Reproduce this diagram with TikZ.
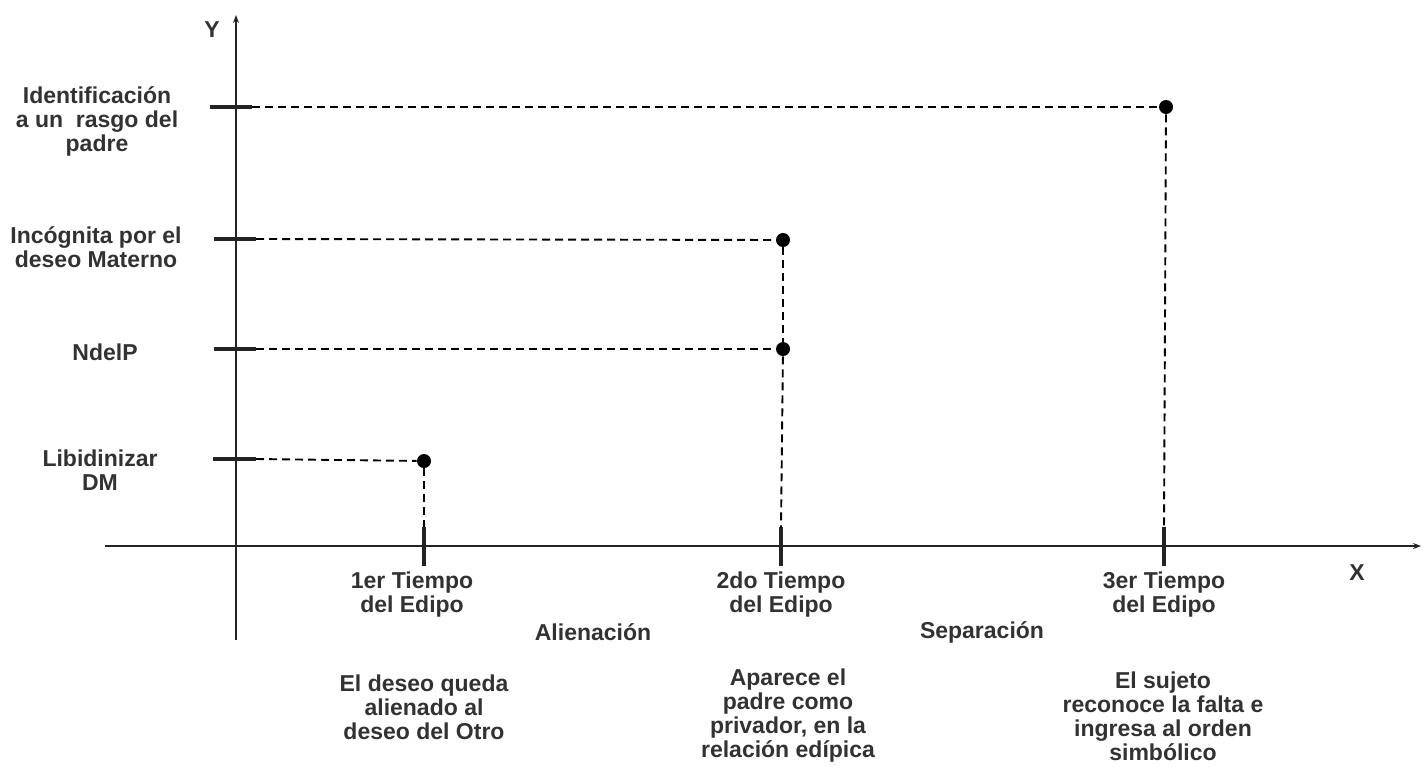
\documentclass[tikz,border=0pt]{standalone}
\usepackage{fontspec}
\setmainfont{Liberation Sans}
\usetikzlibrary{arrows.meta}
\definecolor{txt}{RGB}{50,50,50}
\definecolor{ln}{RGB}{35,35,35}
\begin{document}
\begin{tikzpicture}[x=0.5pt,y=-0.5pt,
  font=\fontsize{11.5}{12}\selectfont\bfseries,
  axis/.style={line width=1pt, draw=ln},
  tickmark/.style={line width=1.9pt, draw=ln},
  guide/.style={dash pattern=on 4pt off 2.5pt, line width=0.95pt, draw=black},
  dot/.style={circle, fill=black, inner sep=0pt, minimum size=7pt},
  lbl/.style={align=center, text=txt, inner sep=0pt}]
\useasboundingbox (0,0) rectangle (1427,766);
% axes
\coordinate (yb) at (236,640);
\coordinate (ytop) at (236,15);
\coordinate (xl) at (105,546);
\coordinate (xr) at (1421,546);
\draw[axis,-{Stealth[length=4pt,width=3pt]}] (yb) -- (ytop);
\draw[axis,-{Stealth[length=4pt,width=3pt]}] (xl) -- (xr);
\node[lbl] (ylab) at (212,30) {Y};
\node[lbl] (xlab) at (1357,573) {X};
% y ticks
\coordinate (ya3) at (210,107); \coordinate (yb3) at (252,107);
\coordinate (ya2) at (214,239); \coordinate (yb2) at (256,239);
\coordinate (ya1) at (214,349); \coordinate (yb1) at (256,349);
\coordinate (ya0) at (213,459); \coordinate (yb0) at (256,459);
\foreach \i in {0,1,2,3} \draw[tickmark] (ya\i) -- (yb\i);
% x ticks
\coordinate (xt1) at (424,527); \coordinate (xs1) at (424,566);
\coordinate (xt2) at (781,527); \coordinate (xs2) at (781,566);
\coordinate (xt3) at (1164,527); \coordinate (xs3) at (1164,566);
\foreach \i in {1,2,3} \draw[tickmark] (xt\i) -- (xs\i);
% dots
\node[dot] (d3) at (1166,107) {};
\node[dot] (d2a) at (783,240) {};
\node[dot] (d2b) at (783,349) {};
\node[dot] (d1) at (424,461) {};
% guides
\draw[guide] (yb3) -- (d3);
\draw[guide] (yb2) -- (d2a);
\draw[guide] (yb1) -- (d2b);
\draw[guide] (yb0) -- (d1);
\draw[guide] (d3) -- (xt3);
\draw[guide] (d2a) -- (d2b);
\draw[guide] (d2b) -- (xt2);
\draw[guide] (d1) -- (xt1);
% left labels
\node[lbl] (l3) at (97,121) {Identificación\\a un\ \ rasgo del\\padre};
\node[lbl] (l2) at (96,247) {Incógnita por el\\deseo Materno};
\node[lbl] (l1) at (105,352) {NdelP};
\node[lbl] (l0) at (100,470) {Libidinizar\\DM};
% x labels
\node[lbl] (t1) at (412,595) {1er Tiempo\\del Edipo};
\node[lbl] (t2) at (781,595) {2do Tiempo\\del Edipo};
\node[lbl] (t3) at (1164,595) {3er Tiempo\\del Edipo};
\node[lbl] (al) at (593,632) {Alienación};
\node[lbl] (se) at (982,632) {Separación};
\node[lbl] (e1) at (424,707) {El deseo queda\\alienado al\\deseo del Otro};
\node[lbl] (e2) at (788,716) {Aparece el\\padre como\\privador, en la\\relación edípica};
\node[lbl] (e3) at (1163,716) {El sujeto\\reconoce la falta e\\ingresa al orden\\simbólico};
\end{tikzpicture}
\end{document}
